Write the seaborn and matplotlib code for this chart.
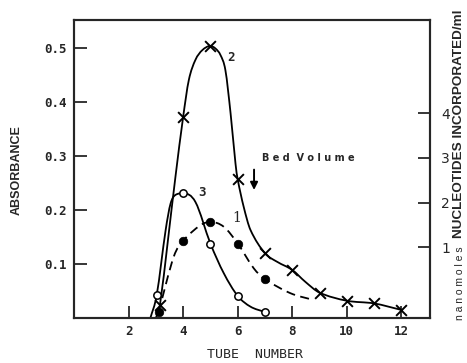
import numpy as np
import pandas as pd
import matplotlib
matplotlib.use("Agg")
from matplotlib import pyplot as plt
from matplotlib.path import Path
from matplotlib.patches import PathPatch
import seaborn as sns

# everything, in left axis units (absorbance)
# marked points per curve
tubes_2 = [3.15, 4, 5, 6, 7, 8, 9, 10, 11, 12]
marks_2 = [0.024, 0.372, 0.504, 0.257, 0.12, 0.089, 0.047, 0.032, 0.027, 0.015]

tubes_3 = [3.03, 4, 5, 6, 7]
marks_3 = [0.042, 0.231, 0.138, 0.041, 0.011]

tubes_1 = [3.1, 4, 5, 6, 7]
marks_1 = [0.011, 0.143, 0.178, 0.138, 0.072]

# the drawn curves
trace_x_2 = [3.0, 3.15, 3.72, 4.0, 4.21, 4.45, 4.7, 5.0, 5.19, 5.37, 5.55, 5.74, 5.92,
             6.0, 6.22, 6.47, 7.0, 7.45, 8.0, 8.48, 9.0, 10.0, 11.0, 12.0]
trace_y_2 = [0.0, 0.024, 0.262, 0.372, 0.441, 0.478, 0.496, 0.504, 0.499, 0.487, 0.459,
             0.379, 0.286, 0.257, 0.206, 0.163, 0.12, 0.104, 0.089, 0.067, 0.047, 0.032,
             0.027, 0.015]

trace_x_3 = [2.8, 3.03, 3.36, 3.54, 3.72, 4.0, 4.45, 5.0, 5.49, 6.0, 6.47, 7.0]
trace_y_3 = [0.0, 0.042, 0.163, 0.212, 0.228, 0.231, 0.215, 0.138, 0.083, 0.041, 0.021, 0.011]

trace_x_1 = [3.1, 3.66, 4.0, 4.64, 5.0, 5.49, 6.0, 6.59, 7.0, 7.93, 8.8]
trace_y_1 = [0.011, 0.114, 0.143, 0.172, 0.178, 0.169, 0.138, 0.092, 0.072, 0.046, 0.033]

x_ticks = [2, 4, 6, 8, 10, 12]
y_ticks = [0.1, 0.2, 0.3, 0.4, 0.5]
right_ticks = [1, 2, 3, 4]


def smooth_path(xs, ys):
    # cubic bezier through the traced points: centred tangents, flat at peaks,
    # limited so that a segment never overshoots
    xs = np.asarray(xs, float)
    ys = np.asarray(ys, float)
    d = np.diff(ys) / np.diff(xs)
    m = np.zeros_like(ys)
    m[0], m[-1] = d[0], d[-1]
    for k in range(1, len(xs) - 1):
        if d[k - 1] * d[k] > 0:
            m[k] = (ys[k + 1] - ys[k - 1]) / (xs[k + 1] - xs[k - 1])
    for k in range(len(d)):
        if d[k] == 0:
            m[k] = m[k + 1] = 0
            continue
        a, b = m[k] / d[k], m[k + 1] / d[k]
        if a * a + b * b > 9:
            t = 3 / np.hypot(a, b)
            m[k], m[k + 1] = t * a * d[k], t * b * d[k]
    verts = [(xs[0], ys[0])]
    codes = [Path.MOVETO]
    for k in range(len(xs) - 1):
        h = xs[k + 1] - xs[k]
        verts += [(xs[k] + h / 3, ys[k] + m[k] * h / 3),
                  (xs[k + 1] - h / 3, ys[k + 1] - m[k + 1] * h / 3),
                  (xs[k + 1], ys[k + 1])]
        codes += [Path.CURVE4] * 3
    return Path(verts, codes)


sns.set_style("ticks")
plt.rcParams["font.family"] = ["DejaVu Sans"]

fig = plt.figure(figsize=(4.67, 3.63), dpi=100)
ax = fig.add_axes([74 / 467, 45 / 363, 356 / 467, 298 / 363])

for xs, ys, ls in [(trace_x_2, trace_y_2, "-"), (trace_x_3, trace_y_3, "-"),
                   (trace_x_1, trace_y_1, (0, (5, 3)))]:
    ax.add_patch(PathPatch(smooth_path(xs, ys), facecolor="none", edgecolor="black",
                           linewidth=1.3, linestyle=ls, zorder=2))

df2 = pd.DataFrame({"tube": tubes_2, "val": marks_2})
df3 = pd.DataFrame({"tube": tubes_3, "val": marks_3})
df1 = pd.DataFrame({"tube": tubes_1, "val": marks_1})

sns.scatterplot(data=df2, x="tube", y="val", marker="x", s=60, color="black",
                linewidth=1.4, ax=ax, zorder=3)
sns.scatterplot(data=df3, x="tube", y="val", marker="o", s=28, facecolor="white",
                edgecolor="black", linewidth=1.1, ax=ax, zorder=3)
sns.scatterplot(data=df1, x="tube", y="val", marker="o", s=38, color="black",
                edgecolor="black", ax=ax, zorder=3)

ax.set_xlim(0, 13.05)
ax.set_ylim(0, 0.552)
ax.set_xticks(x_ticks)
ax.set_yticks(y_ticks)
ax.set_xticklabels([str(t) for t in x_ticks], family="DejaVu Sans Mono",
                   fontsize=9, fontweight="bold")
ax.set_yticklabels(["%.1f" % t for t in y_ticks], family="DejaVu Sans Mono",
                   fontsize=9, fontweight="bold")
ax.tick_params(direction="in", length=9, width=1.3, pad=5)
ax.set_xlabel("")
ax.set_ylabel("")
for sp in ax.spines.values():
    sp.set_visible(True)
    sp.set_linewidth(1.5)

ax2 = ax.twinx()
ax2.set_ylim(-0.58, 6.08)
ax2.set_yticks(right_ticks)
ax2.set_yticklabels([str(t) for t in right_ticks], fontsize=10)
ax2.tick_params(direction="in", length=9, width=1.3, pad=8)
for sp in ax2.spines.values():
    sp.set_linewidth(1.5)

# curve numbers and the bed volume marker
ax.text(5.75, 0.483, "2", fontsize=9, fontweight="bold", ha="center", va="center",
        family="DejaVu Sans Mono")
ax.text(4.7, 0.232, "3", fontsize=9, fontweight="bold", ha="center", va="center",
        family="DejaVu Sans Mono")
ax.text(5.96, 0.186, "1", fontsize=10, ha="center", va="center", family="DejaVu Serif")
ax.text(6.9, 0.296, "B e d  V o l u m e", fontsize=7, fontweight="bold", ha="left",
        va="center", family="DejaVu Sans")
ax.annotate("", xy=(6.6, 0.232), xytext=(6.6, 0.28),
            arrowprops=dict(arrowstyle="-|>", color="black", lw=1.4, mutation_scale=11))

fig.text(17 / 467, 1 - 170 / 363, "ABSORBANCE", rotation=90, ha="center", va="center",
         fontsize=9, fontweight="bold", family="Liberation Sans")
fig.text(255 / 467, 1 - 354 / 363, "TUBE  NUMBER", ha="center", va="center",
         fontsize=9.5, family="DejaVu Sans Mono")
fig.text(459 / 467, 1 - 238 / 363, "NUCLEOTIDES INCORPORATED/ml", rotation=90,
         ha="center", va="bottom", fontsize=9.7, fontweight="bold", family="Liberation Sans")
fig.text(460 / 467, 1 - 320 / 363, "n a n o m o l e s", rotation=90, ha="center",
         va="bottom", fontsize=7.5, family="Liberation Sans")

fig.savefig("out.png", dpi=100)
